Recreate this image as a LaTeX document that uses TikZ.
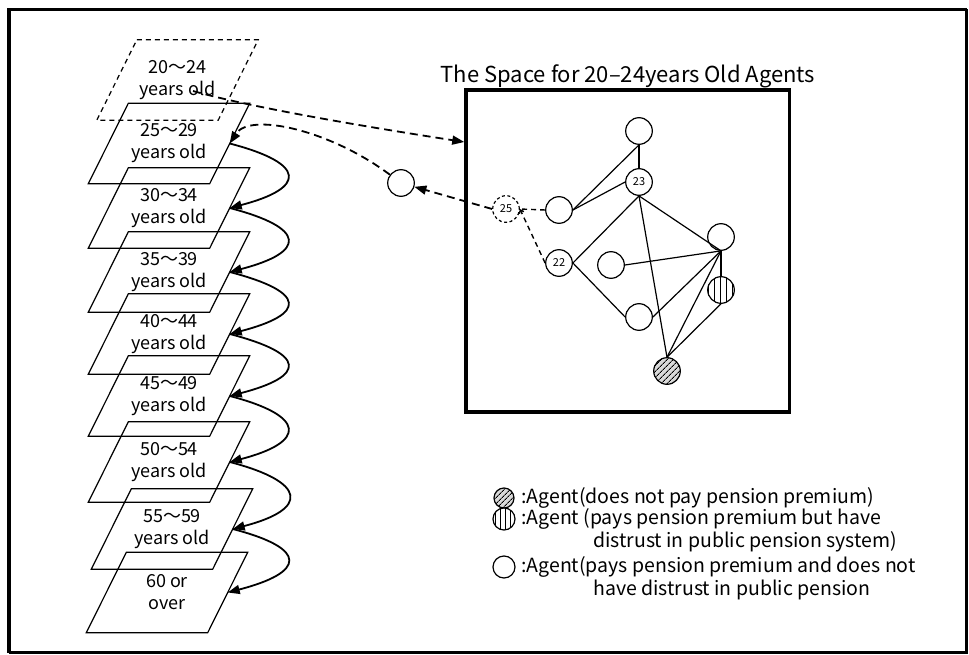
\documentclass[tikz,border=0pt]{standalone}
\usepackage{fontspec}
\setmainfont{Noto Sans CJK JP}
\usetikzlibrary{arrows.meta,patterns.meta}
\begin{document}
\begin{tikzpicture}[x=1pt,y=-1pt,
  agebox/.style={minimum width=121pt, minimum height=80pt, inner sep=0pt, align=center, font=\fontsize{18}{22}\selectfont},
  para/.style={line width=1.2pt, line join=miter},
  carr/.style={line width=1.8pt, -{Triangle[length=12pt,width=9pt]}},
  darr/.style={line width=1.8pt, dash pattern=on 8pt off 5pt, -{Triangle[length=12pt,width=9pt]}},
  agentbase/.style={circle, draw, line width=1.2pt, minimum size=26.6pt, inner sep=0pt, font=\fontsize{11}{12}\selectfont},
  agent/.style={agentbase, fill=white},
  hatch/.style={agentbase, preaction={fill=gray!30}, pattern={Lines[angle=45,distance=4pt,line width=0.9pt]}},
  vstripe/.style={agentbase, preaction={fill=white}, pattern={Lines[angle=90,distance=6pt,line width=1pt]}},
  edge/.style={line width=1.2pt},
  idash/.style={line width=1.4pt, dash pattern=on 5pt off 4pt},
  legtext/.style={anchor=west, inner sep=0pt, font=\fontsize{19.5}{22}\selectfont}
]
\useasboundingbox (0,0) rectangle (969,655);
% outer frame
\draw[line width=3.5pt] (9,652.5) -- (9,9.5) -- (966.5,9.5);
\draw[line width=2.5pt] (9,652.7) -- (966.5,652.7) -- (966.5,9.5);

% age layers
\node[agebox] (p0) at (177.5,80) {20～24\\years old};
\node[agebox] (p1) at (169,143.5) {25～29\\years old};
\node[agebox] (p2) at (169,208) {30～34\\years old};
\node[agebox] (p3) at (169,272) {35～39\\years old};
\node[agebox] (p4) at (169,334) {40～44\\years old};
\node[agebox] (p5) at (169,396) {45～49\\years old};
\node[agebox] (p6) at (169,462) {50～54\\years old};
\node[agebox] (p7) at (172,529) {55～59\\years old};
\node[agebox] (p8) at (167,592.5) {60 or\\over};
\draw[para, dash pattern=on 5pt off 4pt] ([xshift=20pt]p0.north west) -- ([xshift=20pt]p0.north east) -- ([xshift=-20pt]p0.south east) -- ([xshift=-20pt]p0.south west) -- cycle;
\foreach \n in {p1,p2,p3,p4,p5,p6,p7,p8}
  \draw[para] ([xshift=20pt]\n.north west) -- ([xshift=20pt]\n.north east) -- ([xshift=-20pt]\n.south east) -- ([xshift=-20pt]\n.south west) -- cycle;

% transitions between layers
\foreach \a/\b in {p1/p2,p2/p3,p3/p4,p4/p5,p5/p6,p6/p7,p7/p8}
  \draw[carr] (\a.east) .. controls +(77,20) and +(77,-20) .. (\b.east);

% the space
\node[draw, line width=3.5pt, minimum width=323.5pt, minimum height=322pt, inner sep=0pt] (space) at (627.75,251) {};
\node[anchor=base, inner sep=0pt, font=\fontsize{22}{24}\selectfont] (title) at (628,83) {The Space for 20–24years Old Agents};

% agents
\node[agent] (top) at (639,131) {};
\node[agent] (n23) at (639,182) {23};
\node[agent] (A) at (559,210) {};
\node[agentbase, dash pattern=on 3pt off 2.5pt] (n25) at (506,209) {25};
\node[agent] (n22) at (559,263) {22};
\node[agent] (B) at (611,265) {};
\node[agent] (C) at (721,237) {};
\node[vstripe] (S) at (721,290) {};
\node[agent] (D) at (639,317) {};
\node[hatch] (H) at (667,371) {};
\node[agent] (E) at (401,183) {};

\draw[edge] (top.south) -- (n23.north);
\draw[edge] (top.south) -- (A.east);
\draw[edge] (n23.west) -- (A.east);
\draw[edge] (n23.south) -- (n22.east);
\draw[edge] (n23.south) -- (H.north);
\draw[edge] (n23.south) -- (C.south);
\draw[edge] (B.east) -- (C.south);
\draw[edge] (D.east) -- (C.south);
\draw[edge] (n22.east) -- (D.west);
\draw[edge] (H.north) -- (C.south);
\draw[edge] (C.south) -- (S.north);
\draw[edge] (S.south) -- (H.north);

\draw[idash] (A.west) -- (n25.east);
\draw[idash, -{Straight Barb[length=3pt,width=5pt]}] (n22.west) -- (n25.east);

% dashed migration arrows
\coordinate (s0) at (193,91);
\coordinate (boxin) at (space.west |- 0,142);
\draw[darr] (s0) .. controls (260,110) and (400,132) .. (boxin);
\draw[darr] (n25.west) -- (E);
\draw[darr] (E) .. controls (330,130) and (250,112) .. (p1.east);

% legend
\node[agentbase, minimum size=20pt, preaction={fill=gray!30}, pattern={Lines[angle=45,distance=4pt,line width=0.9pt]}] (lh) at (504,498) {};
\node[agentbase, minimum size=22pt, preaction={fill=white}, pattern={Lines[angle=90,distance=5pt,line width=1pt]}] (ls) at (504,519) {};
\node[agent, minimum size=22pt] (le) at (504,567) {};
\node[legtext] (l1) at (521,498) {:Agent(does not pay pension premium)};
\node[legtext] (l2) at (521,519) {:Agent (pays pension premium but have};
\node[legtext] (l3) at (593,542) {distrust in public pension system)};
\node[legtext] (l4) at (521,567) {:Agent(pays pension premium and does not};
\node[legtext] (l5) at (593,590) {have distrust in public pension};
\end{tikzpicture}
\end{document}
